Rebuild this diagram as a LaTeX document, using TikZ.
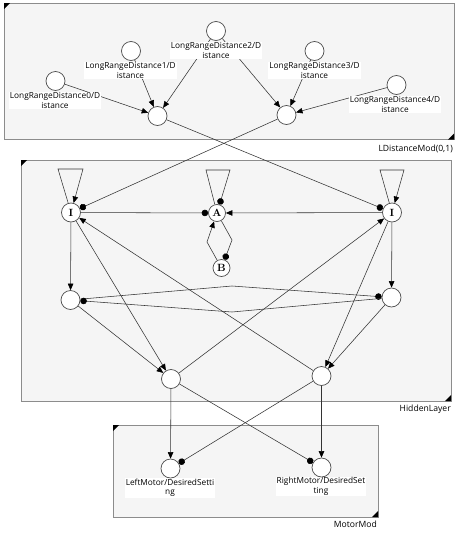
\documentclass[tikz,border=0pt]{standalone}
\usepackage{fontspec}
\newfontfamily\lab{Open Sans}
\usetikzlibrary{arrows.meta}
\pgfdeclarelayer{bg}
\pgfdeclarelayer{edges}
\pgfsetlayers{bg,edges,main}
\tikzset{
  neuron/.style={circle,draw=black!70,fill=white,line width=0.7pt,minimum size=19pt,inner sep=0pt,
    font={\bfseries\fontsize{10.5}{10.5}\selectfont}},
  smallneuron/.style={neuron,minimum size=17pt},
  lbl/.style={fill=white,inner sep=1pt,align=center,font={\lab\fontsize{8.3}{9.6}\selectfont}},
  conn/.style={draw=black!80,line width=0.55pt},
  exc/.style={conn,-{Triangle[length=6.5pt,width=5.5pt,color=black]}},
  inh/.style={conn,-{Circle[length=6.5pt,color=black]}},
  modbox/.style={draw=black!45,fill=black!4,line width=0.8pt},
  boxlbl/.style={font={\lab\fontsize{8.6}{10}\selectfont},anchor=base east,inner sep=0pt},
  corner/.style={fill=black}
}
\begin{document}
\begin{tikzpicture}[x=1pt,y=-1pt]
\useasboundingbox (0,0) rectangle (459,533);
\begin{pgfonlayer}{bg}
  \fill[white] (0,0) rectangle (459,533);
  \path[modbox] (4,3) rectangle (454,139.5);
  \path[modbox] (21,160) rectangle (451,401);
  \path[modbox] (113,425) rectangle (378,517);
  \fill[corner] (4,3) -- ++(6,0) -- ++(-6,6) -- cycle;
  \fill[corner] (454,139.5) -- ++(-6,0) -- ++(6,-6) -- cycle;
  \fill[corner] (21,160) -- ++(6,0) -- ++(-6,6) -- cycle;
  \fill[corner] (451,401) -- ++(-6,0) -- ++(6,-6) -- cycle;
  \fill[corner] (113,425) -- ++(6,0) -- ++(-6,6) -- cycle;
  \fill[corner] (378,517) -- ++(-6,0) -- ++(6,-6) -- cycle;
\end{pgfonlayer}

% module labels
\node[boxlbl] (modL) at (453,151) {LDistanceMod(0,1)};
\node[boxlbl] (modH) at (451,411) {HiddenLayer};
\node[boxlbl] (modM) at (377,527.5) {MotorMod};

% neuron labels
\node[lbl] (tL0) at (55,100.5) {LongRangeDistance0/D\\istance};
\node[lbl] (tL1) at (130.5,70.5) {LongRangeDistance1/D\\istance};
\node[lbl] (tL2) at (216,50.5) {LongRangeDistance2/D\\istance};
\node[lbl] (tL3) at (314.5,70.5) {LongRangeDistance3/D\\istance};
\node[lbl] (tL4) at (395,104.5) {LongRangeDistance4/D\\istance};
\node[lbl] (tLM) at (170,488) {LeftMotor/DesiredSetti\\ng};
\node[lbl] (tRM) at (321,486.5) {RightMotor/DesiredSet\\ting};

% neurons
\node[neuron] (L0) at (55.5,81) {};
\node[neuron] (L1) at (131,51) {};
\node[neuron] (L2) at (216,31) {};
\node[neuron] (L3) at (314.5,51) {};
\node[neuron] (L4) at (396.5,85) {};
\node[neuron] (S1) at (157.5,116) {};
\node[neuron] (S2) at (286.5,115) {};

\node[neuron] (IL) at (71,212.5) {I};
\node[neuron] (IR) at (392,212.5) {I};
\node[smallneuron] (A) at (217,213) {A};
\node[smallneuron] (B) at (221.5,268) {B};
\node[neuron] (HL) at (70.5,300) {};
\node[neuron] (HR) at (391.5,297.5) {};
\node[neuron] (OL) at (171,379) {};
\node[neuron] (OR) at (321.5,376) {};

\node[neuron] (LM) at (170.5,468.5) {};
\node[neuron] (RM) at (321.5,467.5) {};

% bend points
\coordinate (il1) at (58,169);
\coordinate (il2) at (83,169);
\coordinate (ir1) at (380,170);
\coordinate (ir2) at (404,170);
\coordinate (a1) at (206,170);
\coordinate (a2) at (230,170);
\coordinate (ba) at (207,242);
\coordinate (ab) at (232,240);
\coordinate (ht) at (232,286);
\coordinate (hb) at (232,312);

\begin{pgfonlayer}{edges}
  % input module
  \draw[exc] (L0) -- (S1);
  \draw[exc] (L1) -- (S1);
  \draw[exc] (L2) -- (S1);
  \draw[exc] (L2) -- (S2);
  \draw[exc] (L3) -- (S2);
  \draw[exc] (L4) -- (S2);
  % to hidden
  \draw[inh] (S1) -- (IR);
  \draw[inh] (S2) -- (IL);
  % self loops
  \draw[exc] (IL) -- (il1) -- (il2) -- (IL);
  \draw[exc] (IR) -- (ir1) -- (ir2) -- (IR);
  \draw[inh] (A) -- (a1) -- (a2) -- (A);
  % A / B
  \draw[inh] (IL) -- (A);
  \draw[exc] (IR) -- (A);
  \draw[exc] (B) -- (ba) -- (A);
  \draw[inh] (A) -- (ab) -- (B);
  % hidden
  \draw[exc] (IL) -- (HL);
  \draw[exc] (IR) -- (HR);
  \draw[inh] (HL) -- (ht) -- (HR);
  \draw[inh] (HR) -- (hb) -- (HL);
  \draw[exc] (HL) -- (OL);
  \draw[exc] (IL) -- (OL);
  \draw[exc] (HR) -- (OR);
  \draw[exc] (IR) -- (OR);
  \draw[exc] (OL) -- (IR);
  \draw[exc] (OR) -- (IL);
  % motor
  \draw[exc] (OL) -- (LM);
  \draw[exc] (OR) -- (RM);
  \draw[inh] (OR) -- (LM);
  \draw[inh] (OL) -- (RM);
\end{pgfonlayer}
\end{tikzpicture}
\end{document}
